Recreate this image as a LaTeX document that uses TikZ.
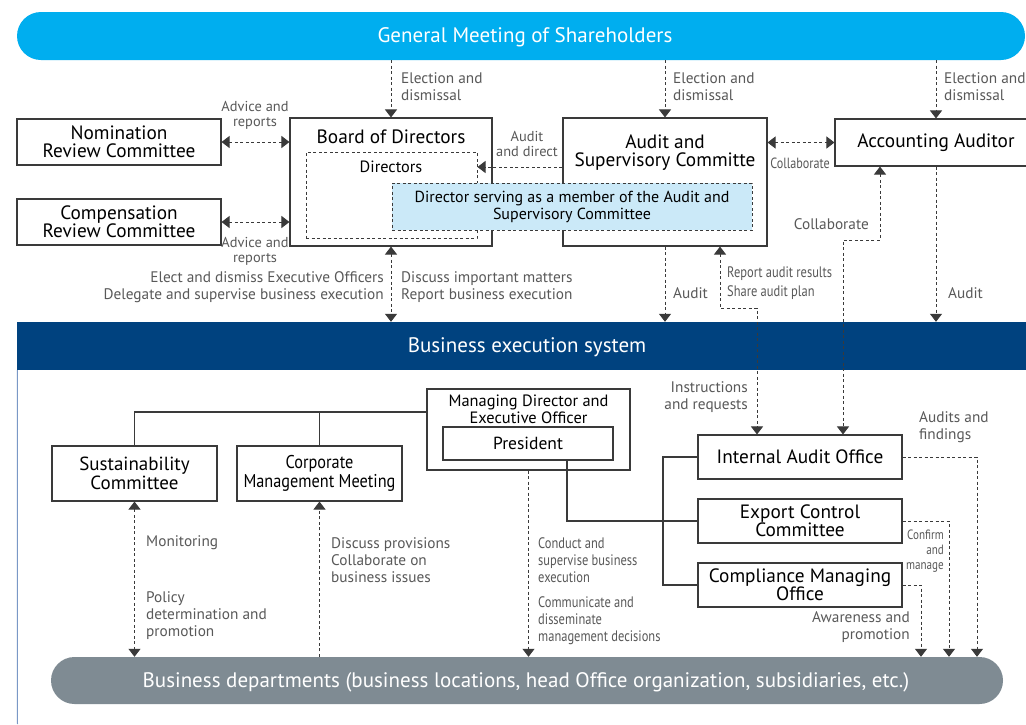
\documentclass[tikz,border=0pt]{standalone}
\usepackage{fontspec}
\setmainfont{PT Sans}
\newfontfamily\condf[FakeStretch=0.82]{PT Sans}
\newfontfamily\condm[FakeStretch=0.88]{PT Sans}
\usetikzlibrary{arrows.meta,calc}
\definecolor{cyanbar}{HTML}{00AEEF}
\definecolor{navybar}{HTML}{00427F}
\definecolor{graybar}{HTML}{7F8B93}
\definecolor{lightblue}{HTML}{CBE9F8}
\definecolor{linec}{HTML}{3A3A3A}
\definecolor{labc}{HTML}{595959}
\definecolor{framec}{HTML}{7A98C6}
\begin{document}
\begin{tikzpicture}[x=1pt,y=-1pt,
  box/.style={draw=linec, line width=1.1pt, fill=white, inner sep=0pt, align=center, text=black},
  bigt/.style={font=\fontsize{19.3}{18}\selectfont},
  bar/.style={inner sep=0pt, text=white, font=\fontsize{21}{22}\selectfont},
  lab/.style={inner sep=0pt, text=labc, align=left, font=\fontsize{15.3}{17}\selectfont},
  slab/.style={inner sep=0pt, text=labc, align=center, font=\fontsize{14.4}{15}\selectfont},
  clab/.style={inner sep=0pt, text=labc, align=left, font=\condf\fontsize{15.2}{17}\selectfont},
  dline/.style={draw=linec, line width=1pt, dash pattern=on 3pt off 2.5pt},
  tip/.style={-{Triangle[width=12pt,length=8pt]}},
  tips/.style={{Triangle[width=12pt,length=8pt]}-{Triangle[width=12pt,length=8pt]}},
  sline/.style={draw=linec, line width=1.1pt}
]
\useasboundingbox (0,0) rectangle (1026,724);
\clip (0,0) rectangle (1026,724);
\fill[white] (0,0) rectangle (1026,724);

% bars
\node[bar, fill=cyanbar, rounded corners=24pt, minimum width=1008pt, minimum height=48pt] (gms) at (521,36) {};
\node[bar] (gmst) at (525,37.5) {General Meeting of Shareholders};
\node[bar, fill=navybar, minimum width=1010pt, minimum height=48pt] (bes) at (522,346) {};
\node[bar] (best) at (527,347.5) {Business execution system};
\draw[framec, line width=1pt] (bes.south west) ++(0.5,0) -- (17.5,724);
\node[bar, fill=graybar, rounded corners=23.5pt, minimum width=952pt, minimum height=47pt] (bd) at (527,680.5) {};
\node[bar] (bdt) at (526,682.5) {Business departments (business locations, head Office organization, subsidiaries, etc.)};

% top boxes
\node[box, bigt, minimum width=204pt, minimum height=46pt] (nom) at (119,142) {Nomination\\Review Committee};
\node[box, bigt, minimum width=204pt, minimum height=46pt] (comp) at (119,222) {Compensation\\Review Committee};
\node[box, minimum width=202pt, minimum height=128pt] (board) at (391,182) {};
\node[inner sep=0pt, bigt] (boardt) at (391,137) {Board of Directors};
\node[draw=linec, line width=1pt, dash pattern=on 3pt off 2.5pt, inner sep=0pt, minimum width=171pt, minimum height=86pt] (dir) at (391.5,195) {};
\node[inner sep=0pt, font=\fontsize{16.3}{17}\selectfont] (dirt) at (391,166.5) {Directors};
\node[box, minimum width=204pt, minimum height=128pt] (asc) at (665,182) {};
\node[inner sep=0pt, bigt, align=center] (asct) at (665,153) {Audit and\\Supervisory Committe};
\node[draw=linec, line width=1pt, dash pattern=on 3pt off 2.5pt, fill=lightblue, inner sep=0pt, align=center, minimum width=360pt, minimum height=47pt, font=\fontsize{16}{17}\selectfont] (dsa) at (572,206.5) {Director serving as a member of the Audit and\\Supervisory Committee};
\node[box, bigt, minimum width=202pt, minimum height=47pt] (acc) at (936,142.5) {Accounting Auditor};

% lower boxes
\node[box, minimum width=203pt, minimum height=81pt] (mdeo) at (528.5,429.5) {};
\node[inner sep=0pt, align=center, font=\fontsize{16.4}{17}\selectfont] (mdeot) at (528.5,409) {Managing Director and\\Executive Officer};
\node[box, font=\fontsize{17.5}{18}\selectfont, minimum width=170pt, minimum height=33pt] (pres) at (528,443.5) {President};
\node[box, font=\fontsize{19}{19.5}\selectfont, minimum width=165pt, minimum height=55pt] (sust) at (134.5,473.5) {Sustainability\\Committee};
\node[box, font=\condm\fontsize{18.5}{19.5}\selectfont, minimum width=165pt, minimum height=55pt] (cmm) at (319.5,473.5) {Corporate\\Management Meeting};
\node[box, bigt, minimum width=204pt, minimum height=44pt] (iao) at (800,457) {Internal Audit Office};
\node[box, bigt, minimum width=204pt, minimum height=44pt] (ecc) at (800,521) {Export Control\\Committee};
\node[box, bigt, minimum width=204pt, minimum height=44pt] (cmo) at (800,585) {Compliance Managing\\Office};

% solid tree lines
\coordinate (t0) at (427,412);
\draw[sline] (t0) -- (t0 -| sust.north) -- (sust.north);
\draw[sline] (t0 -| cmm.north) -- (cmm.north);
\draw[sline] ([xshift=39pt]pres.south) |- (ecc.west);
\coordinate (bus) at (663,0);
\draw[sline] (iao.west) -- (iao.west -| bus) -- (cmo.west -| bus) -- (cmo.west);

% upper connectors
\draw[dline, tip] (gms.south -| board.north) -- (board.north);
\draw[dline, tip] (gms.south -| asc.north) -- (asc.north);
\draw[dline, tip] (gms.south -| acc.north) -- (acc.north);
\draw[dline, tips] (nom.east) -- (nom.east -| board.west);
\draw[dline, tips] (comp.east) -- (comp.east -| board.west);
\draw[dline, tip] ([yshift=15pt]asc.west) -- ([yshift=15pt]asc.west -| dir.east);
\draw[dline, tips] (asc.east |- acc.west) -- (acc.west);
\draw[dline, tips] (board.south) -- (board.south |- bes.north);
\draw[dline, tip] (asc.south) -- (asc.south |- bes.north);
\draw[dline, tip] (acc.south) -- (acc.south |- bes.north);
\coordinate (r1) at (720,308);
\coordinate (r2) at (757,308);
\draw[dline, tips] (asc.south -| r1) -- (r1) -- (r2) -- (r2 |- iao.north);
\coordinate (c1) at (880,240);
\coordinate (c2) at (843,240);
\draw[dline, tips] (acc.south -| c1) -- (c1) -- (c2) -- (c2 |- iao.north);

% lower connectors
\draw[dline, tips] (sust.south) -- (sust.south |- bd.north);
\draw[dline, tip] (cmm.south |- bd.north) -- (cmm.south);
\draw[dline, tip] (mdeo.south) -- (mdeo.south |- bd.north);
\coordinate (a1) at (977,0);
\coordinate (a2) at (949,0);
\coordinate (a3) at (921,0);
\draw[dline, tip] (iao.east) -- (iao.east -| a1) -- (a1 |- bd.north);
\draw[dline, tip] (ecc.east) -- (ecc.east -| a2) -- (a2 |- bd.north);
\draw[dline, tip] (cmo.east) -- (cmo.east -| a3) -- (a3 |- bd.north);

% labels
\node[lab, anchor=west] (l1) at (401,87) {Election and\\dismissal};
\node[lab, anchor=west] (l2) at (673,87) {Election and\\dismissal};
\node[lab, anchor=west] (l3) at (944,87) {Election and\\dismissal};
\node[slab] (l4) at (255,115) {Advice and\\reports};
\node[slab] (l5) at (255,251) {Advice and\\reports};
\node[slab] (l6) at (527,144) {Audit\\and direct};
\node[clab, font=\condf\fontsize{14.8}{15}\selectfont] (l7) at (800,163) {Collaborate};
\node[lab, anchor=east, align=right] (l8) at (384,287) {Elect and dismiss Executive Officers\\Delegate and supervise business execution};
\node[lab, anchor=west] (l9) at (401,287) {Discuss important matters\\Report business execution};
\node[lab, anchor=west] (l10) at (673,293) {Audit};
\node[clab, anchor=west, font=\condf\fontsize{15.2}{19}\selectfont] (l11) at (727,283) {Report audit results\\Share audit plan};
\node[lab, anchor=east] (l12) at (869,224) {Collaborate};
\node[lab, anchor=west] (l13) at (948,293) {Audit};
\node[lab, anchor=east, align=right] (l14) at (748,397) {Instructions\\and requests};
\node[lab, anchor=west] (l15) at (919,427) {Audits and\\findings};
\node[clab, anchor=east, align=right, font=\condf\fontsize{13.5}{15}\selectfont] (l16) at (944,551) {Confirm\\and\\manage};
\node[lab, anchor=east, align=right] (l17) at (910,627) {Awareness and\\promotion};
\node[lab, anchor=west] (l18) at (146,543) {Monitoring};
\node[lab, anchor=west] (l19) at (146,616) {Policy\\determination and\\promotion};
\node[lab, anchor=west] (l20) at (331,560) {Discuss provisions\\Collaborate on\\business issues};
\node[clab, anchor=west] (l21) at (538,560) {Conduct and\\supervise business\\execution};
\node[clab, anchor=west] (l22) at (538,621) {Communicate and\\disseminate\\management decisions};
\end{tikzpicture}
\end{document}
